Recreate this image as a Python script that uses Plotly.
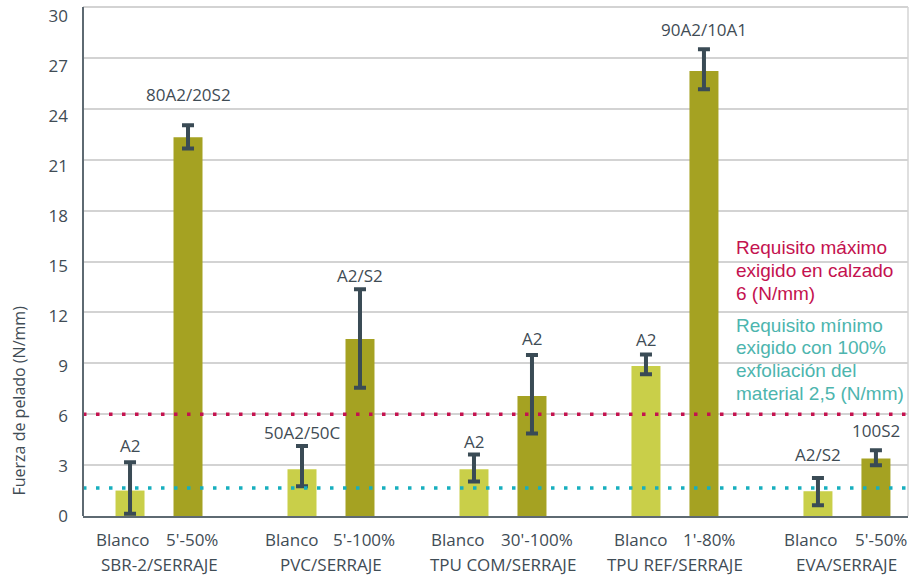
import plotly.graph_objects as go

# ---------------- data ----------------
groups = ["SBR-2/SERRAJE", "PVC/SERRAJE", "TPU COM/SERRAJE", "TPU REF/SERRAJE", "EVA/SERRAJE"]
blanco_names = ["Blanco", "Blanco", "Blanco", "Blanco", "Blanco"]
treat_names = ["5'-50%", "5'-100%", "30'-100%", "1'-80%", "5'-50%"]

blanco_vals = [1.50, 2.76, 2.76, 8.84, 1.46]
blanco_err_plus = [1.67, 1.36, 0.86, 0.68, 0.78]
blanco_err_minus = [1.37, 1.01, 0.72, 0.48, 0.83]
blanco_labels = ["A2", "50A2/50C", "A2", "A2", "A2/S2"]

treat_vals = [22.33, 10.44, 7.07, 26.23, 3.39]
treat_err_plus = [0.71, 2.93, 2.42, 1.29, 0.49]
treat_err_minus = [0.67, 2.88, 2.20, 1.07, 0.40]
treat_labels = ["80A2/20S2", "A2/S2", "A2", "90A2/10A1", "100S2"]

req_max = 6.0
req_min_line = 1.65
req_max_lines = ["Requisito máximo", "exigido en calzado", "6 (N/mm)"]
req_min_lines = ["Requisito mínimo", "exigido con 100%", "exfoliación del", "material 2,5 (N/mm)"]

y_ticks = [0, 3, 6, 9, 12, 15, 18, 21, 24, 27, 30]
y_max = 30
y_title = "Fuerza de pelado (N/mm)"

# ---------------- style ----------------
C_BLANCO = "#C9CF49"
C_TREAT = "#A5A222"
C_ERR = "#3A4B55"
C_TEXT = "#3F4C55"
C_RED = "#C4124F"
C_CYAN = "#17AFBE"
C_CYAN_TXT = "#4DB5AE"
FONT = "Open Sans"

BW = 0.1686           # bar width in group units
OFF = 0.1686          # distance of bar centre from group centre
x_idx = list(range(len(groups)))
lift_blanco = [3, 0, 0, 2, 10]
lift_treat = [17, 0, 3, 6, 6]
shift_blanco_name = [-7, -10, -16, -5, -7]
shift_treat_name = [4, 4, 5, 5, 5]
Y_RANGE_TOP = 30.42          # plot area range (30 sits ~7 px below the top)
LABEL_STRETCH = 16.96 / 16.66  # tick labels sit slightly lower towards the top, as in the reference

PLOT_BOT_PX = 516
def paper_y(px):
    return (PLOT_BOT_PX - px) / PLOT_BOT_PX

fig = go.Figure()
err_style = dict(type="data", symmetric=False, color=C_ERR, thickness=4, width=6)

fig.add_trace(go.Bar(
    x=x_idx, y=blanco_vals, width=BW, offset=-OFF - BW / 2,
    marker=dict(color=C_BLANCO, line=dict(width=0)),
    error_y=dict(array=blanco_err_plus, arrayminus=blanco_err_minus, **err_style),
    hoverinfo="skip", showlegend=False))
fig.add_trace(go.Bar(
    x=x_idx, y=treat_vals, width=BW, offset=OFF - BW / 2,
    marker=dict(color=C_TREAT, line=dict(width=0)),
    error_y=dict(array=treat_err_plus, arrayminus=treat_err_minus, **err_style),
    hoverinfo="skip", showlegend=False))
# empty trace so the label-only axis is drawn
fig.add_trace(go.Scatter(x=[], y=[], yaxis="y2", showlegend=False, hoverinfo="skip"))

ann = []
lab_font = dict(family=FONT, size=17, color=C_TEXT)
for i in x_idx:
    ann.append(dict(x=i - OFF, y=blanco_vals[i] + blanco_err_plus[i], text=blanco_labels[i],
                    showarrow=False, yanchor="bottom", yshift=lift_blanco[i], font=lab_font))
    ann.append(dict(x=i + OFF, y=treat_vals[i] + treat_err_plus[i], text=treat_labels[i],
                    showarrow=False, yanchor="bottom", yshift=lift_treat[i], font=lab_font))
    ann.append(dict(x=i - OFF, y=0, yref="paper", text=blanco_names[i], showarrow=False,
                    yanchor="middle", yshift=-23, xshift=shift_blanco_name[i], font=lab_font))
    ann.append(dict(x=i + OFF, y=0, yref="paper", text=treat_names[i], showarrow=False,
                    yanchor="middle", yshift=-23, xshift=shift_treat_name[i], font=lab_font))
    ann.append(dict(x=i, y=0, yref="paper", text=groups[i], showarrow=False,
                    yanchor="middle", yshift=-48, font=lab_font))

LINE_H = 22.7
for k, t in enumerate(req_max_lines):
    ann.append(dict(x=0.789, y=paper_y(248 + k * LINE_H), xref="paper", yref="paper", text=t,
                    xanchor="left", yanchor="middle", showarrow=False,
                    font=dict(family="Liberation Sans", size=19, color=C_RED)))
for k, t in enumerate(req_min_lines):
    ann.append(dict(x=0.789, y=paper_y(325 + k * LINE_H), xref="paper", yref="paper", text=t,
                    xanchor="left", yanchor="middle", showarrow=False,
                    font=dict(family="Liberation Sans", size=19, color=C_CYAN_TXT)))
ann.append(dict(x=-0.077, y=paper_y(400), xref="paper", yref="paper", text=y_title, textangle=-90,
                showarrow=False, xanchor="center", yanchor="middle",
                font=dict(family=FONT, size=16, color=C_TEXT)))

shapes = [
    dict(type="line", xref="paper", yref="y", x0=0, x1=1, y0=y_max, y1=y_max,
         line=dict(color="#D3D3D3", width=1.8), layer="below"),
    dict(type="line", xref="paper", yref="y", x0=0, x1=1, y0=req_max, y1=req_max,
         line=dict(color=C_RED, width=3.5, dash="3.5px,9.5px"), layer="above"),
    dict(type="line", xref="paper", yref="y", x0=0, x1=1, y0=req_min_line, y1=req_min_line,
         line=dict(color=C_CYAN, width=3.5, dash="3.5px,9.5px"), layer="above"),
    dict(type="line", xref="paper", yref="y", x0=1, x1=1, y0=0, y1=y_max,
         line=dict(color="#D4D4D4", width=1.5), layer="below"),
    dict(type="line", xref="paper", yref="y", x0=0, x1=0, y0=0, y1=y_max,
         line=dict(color="#5E6A72", width=2), layer="above"),
]

fig.update_layout(
    width=920, height=576,
    margin=dict(l=83, r=12, t=0, b=576 - PLOT_BOT_PX, pad=0, autoexpand=False),
    paper_bgcolor="white", plot_bgcolor="white",
    barmode="overlay",
    annotations=ann, shapes=shapes,
    xaxis=dict(range=[-0.442, 4.355], showgrid=False, zeroline=False, showticklabels=False,
               showline=True, linecolor="#5E6A72", linewidth=2, fixedrange=True, automargin=False),
    yaxis=dict(range=[0, Y_RANGE_TOP], tickvals=y_ticks, showgrid=True, gridcolor="#D3D3D3",
               gridwidth=1.8, zeroline=False, showline=False, automargin=False,
               ticks="", showticklabels=False),
    yaxis2=dict(range=[0, Y_RANGE_TOP * LABEL_STRETCH], overlaying="y", side="left", anchor="x",
                tickvals=y_ticks, showgrid=False, zeroline=False, showline=False, automargin=False,
                ticks="", ticklabelstandoff=14, ticklabeloverflow="allow",
                tickfont=dict(family=FONT, size=17, color=C_TEXT)),
)

fig.write_html("out.html")
